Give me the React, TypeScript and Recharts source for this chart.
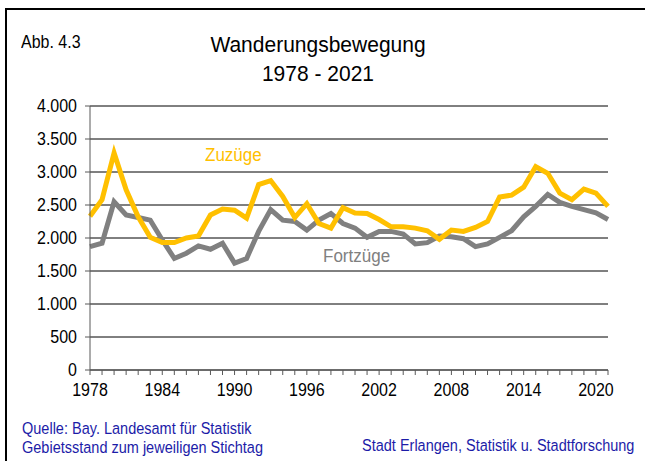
import React from "react";
import { LineChart, Line, XAxis, YAxis, CartesianGrid } from "recharts";

const years = [
  1978, 1979, 1980, 1981, 1982, 1983, 1984, 1985, 1986, 1987, 1988,
  1989, 1990, 1991, 1992, 1993, 1994, 1995, 1996, 1997, 1998, 1999,
  2000, 2001, 2002, 2003, 2004, 2005, 2006, 2007, 2008, 2009, 2010,
  2011, 2012, 2013, 2014, 2015, 2016, 2017, 2018, 2019, 2020, 2021,
];

const zuzuege = [
  2330, 2580, 3290, 2730, 2320, 2010, 1930, 1930, 2000, 2030, 2350,
  2440, 2420, 2300, 2810, 2870, 2630, 2310, 2520, 2220, 2150, 2460,
  2380, 2370, 2280, 2170, 2170, 2150, 2110, 1980, 2120, 2100, 2160,
  2250, 2620, 2650, 2770, 3080, 2980, 2680, 2580, 2740, 2680, 2480,
];

const fortzuege = [
  1870, 1920, 2550, 2350, 2310, 2270, 1970, 1690, 1770, 1880, 1830,
  1920, 1620, 1690, 2100, 2430, 2270, 2250, 2120, 2270, 2370, 2220,
  2150, 2010, 2100, 2100, 2060, 1910, 1930, 2030, 2020, 1990, 1870,
  1910, 2010, 2110, 2320, 2480, 2660, 2540, 2480, 2430, 2380, 2280,
];

const yTicks = [0, 500, 1000, 1500, 2000, 2500, 3000, 3500, 4000];
const xLabelYears = [1978, 1984, 1990, 1996, 2002, 2008, 2014, 2020];

const data = years.map((y, i) => ({ year: y, zu: zuzuege[i], fort: fortzuege[i] }));

const FONT = '"Liberation Sans", Arial, sans-serif';
const BLUE = "#1c1ca8";
const STRETCH = { transform: "scaleY(1.1)", transformOrigin: "0 0" };

const fmt = (v: number) => v.toLocaleString("de-DE");

function XTick(props: any) {
  const { x, y, payload } = props;
  if (!xLabelYears.includes(payload.value)) return null;
  return (
    <text transform={`translate(${x},${y + 15}) scale(1,1.1)`} textAnchor="middle" fontSize={16} fill="#000" fontFamily={FONT}>
      {payload.value}
    </text>
  );
}

function YTick(props: any) {
  const { x, y, payload } = props;
  return (
    <text transform={`translate(${x},${y + 6.3}) scale(1,1.1)`} textAnchor="end" fontSize={16} fill="#000" fontFamily={FONT}>
      {fmt(payload.value)}
    </text>
  );
}

export default function App() {
  return (
    <div style={{ position: "absolute", left: 0, top: 0, width: 645, height: 461, background: "#fff", overflow: "hidden", fontFamily: FONT }}>
      {/* Rahmen */}
      <div style={{ position: "absolute", left: 5, top: 8, width: 700, height: 500, borderLeft: "2px solid #000", borderTop: "2px solid #000" }} />

      <div style={{ position: "absolute", left: 21, top: 33, fontSize: 16, color: "#000", ...STRETCH }}>Abb. 4.3</div>
      <div style={{ position: "absolute", left: 0, width: 636, top: 30, textAlign: "center", fontSize: 21, lineHeight: "28px", color: "#000", transform: "scaleY(1.05)", transformOrigin: "0 0" }}>
        Wanderungsbewegung
        <br />
        1978 - 2021
      </div>

      <div style={{ position: "absolute", left: 0, top: 0 }}>
        <LineChart width={645} height={461} data={data} margin={{ top: 106, right: 37, left: 0, bottom: 0 }}>
          <CartesianGrid horizontal vertical={false} stroke="#000" strokeWidth={1} />
          <XAxis
            dataKey="year"
            interval={0}
            height={91}
            tick={<XTick />}
            tickSize={5}
            tickMargin={6}
            stroke="#595959"
            tickLine={{ stroke: "#595959" }}
          />
          <XAxis xAxisId="t" dataKey="year" orientation="top" height={0} tick={false} tickLine={false} stroke="#9a9a9a" />
          <YAxis
            domain={[0, 4000]}
            ticks={yTicks}
            width={90}
            tickSize={5}
            tickMargin={8}
            stroke="#595959"
            tick={<YTick />}
          />
          <YAxis yAxisId="r" orientation="right" width={0} tick={false} stroke="#c0c0c0" domain={[0, 4000]} />
          <Line type="linear" dataKey="fort" stroke="#808080" strokeWidth={5} dot={false} isAnimationActive={false} />
          <Line type="linear" dataKey="zu" stroke="#FFC000" strokeWidth={5} dot={false} isAnimationActive={false} />
        </LineChart>
      </div>

      <div style={{ position: "absolute", left: 205, top: 144, fontSize: 17, color: "#FFC000", ...STRETCH }}>Zuzüge</div>
      <div style={{ position: "absolute", left: 323, top: 245, fontSize: 17, color: "#808080", ...STRETCH }}>Fortzüge</div>

      <div style={{ position: "absolute", left: 22, top: 420, fontSize: 14.5, lineHeight: "17px", color: BLUE, ...STRETCH }}>
        Quelle: Bay. Landesamt für Statistik
        <br />
        Gebietsstand zum jeweiligen Stichtag
      </div>
      <div style={{ position: "absolute", left: 362, top: 437, fontSize: 14.5, lineHeight: "17px", color: BLUE, ...STRETCH }}>
        Stadt Erlangen, Statistik u. Stadtforschung
      </div>
    </div>
  );
}
